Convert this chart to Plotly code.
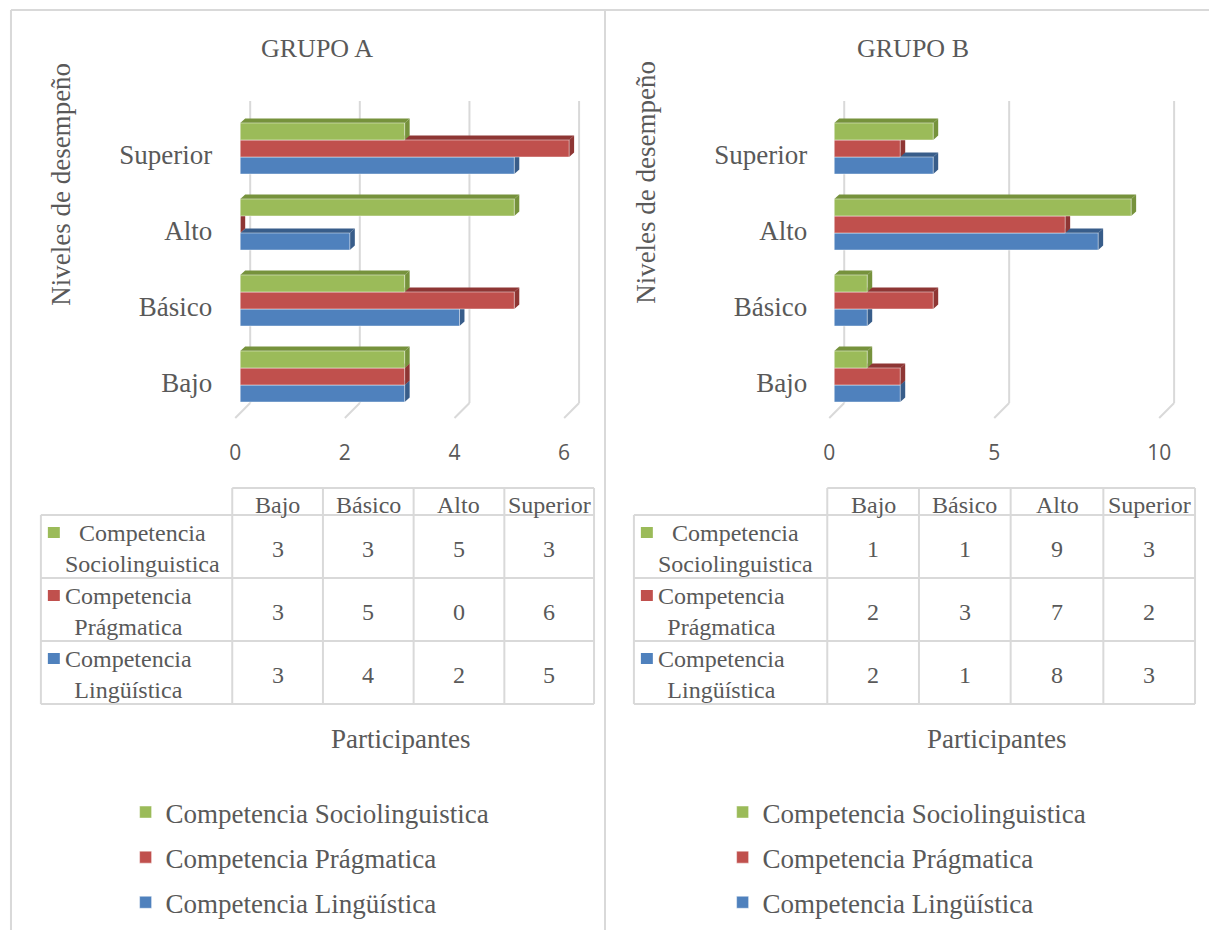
import plotly.graph_objects as go

W, H = 1209, 930

# ---------------- data ----------------
categories = ["Bajo", "Básico", "Alto", "Superior"]
series_names = ["Competencia Lingüística", "Competencia Prágmatica", "Competencia Sociolinguistica"]
table_row_labels = ["Competencia<br>Sociolinguistica", "Competencia<br>Prágmatica", "Competencia<br>Lingüística"]

grupo_a_linguistica = [3, 4, 2, 5]
grupo_a_pragmatica = [3, 5, 0, 6]
grupo_a_socio = [3, 3, 5, 3]

grupo_b_linguistica = [2, 1, 8, 3]
grupo_b_pragmatica = [2, 3, 7, 2]
grupo_b_socio = [1, 1, 9, 3]

ticks_a = [0, 2, 4, 6]
ticks_b = [0, 5, 10]

titles = ["GRUPO A", "GRUPO B"]
y_title = "Niveles de desempeño"
x_title = "Participantes"

# ---------------- style ----------------
colors = ["#4F81BD", "#C0504D", "#9BBB59"]
dark = ["#385D8A", "#8E3634", "#76923C"]
grid_col = "#D9D9D9"
txt_col = "#595959"
SERIF = "Liberation Serif, Times New Roman, serif"
SANS = "Open Sans, Liberation Sans, sans-serif"
BIG = 27

# vertical layout (pixels)
Y_ZERO_PX = 376.5   # centre of first category
Y_UNIT_PX = 76.0
Y_DOM_TOP, Y_DOM_BOT = 95.0, 422.0
BAR_W = 0.224
DEPTH_X_PX, DEPTH_Y_PX = 5.0, 4.5
GRID_TOP_PX, GRID_BOT_PX, FLOOR_PX = 101.0, 403.0, 15.0
GRID_SHIFT_PX = 10.0


def yv(p):
    return (Y_ZERO_PX - p) / Y_UNIT_PX


panels = [
    dict(name="a", xa="x", ya="y", legend="legend",
         data=[grupo_a_linguistica, grupo_a_pragmatica, grupo_a_socio], ticks=ticks_a,
         zero=237.0, unit=55.0, dom=(229.0, 622.0), title=titles[0],
         title_xy=(314, 48), ytitle_xy=(57, 184), xtitle_xy=(398, 739),
         table_cols=[37, 229, 320, 411, 502, 592], legend_x=122),
    dict(name="b", xa="x2", ya="y2", legend="legend2",
         data=[grupo_b_linguistica, grupo_b_pragmatica, grupo_b_socio], ticks=ticks_b,
         zero=833.0, unit=33.1, dom=(826.0, 1197.0), title=titles[1],
         title_xy=(912, 48), ytitle_xy=(644, 182), xtitle_xy=(996, 739),
         table_cols=[632, 826, 918, 1010, 1103, 1195], legend_x=721),
]
TABLE_ROWS = [488, 515, 578, 641, 704]
ROWHDR_CX = [102, 88, 88]

fig = go.Figure()
shapes = []
annotations = []
layout_axes = {}

for pi, p in enumerate(panels):
    unit = p["unit"]
    xr = [(p["dom"][0] - p["zero"]) / unit, (p["dom"][1] - p["zero"]) / unit]
    dxu = DEPTH_X_PX / unit
    dyu = DEPTH_Y_PX / Y_UNIT_PX
    xref, yref = p["xa"], p["ya"]

    # back-wall gridlines + floor diagonals
    for t in p["ticks"]:
        gx = t + GRID_SHIFT_PX / unit
        shapes.append(dict(type="line", xref=xref, yref=yref, layer="below",
                           x0=gx, x1=gx, y0=yv(GRID_BOT_PX), y1=yv(GRID_TOP_PX),
                           line=dict(color=grid_col, width=2)))
        shapes.append(dict(type="line", xref=xref, yref=yref, layer="below",
                           x0=gx, x1=gx - FLOOR_PX / unit, y0=yv(GRID_BOT_PX),
                           y1=yv(GRID_BOT_PX + FLOOR_PX),
                           line=dict(color=grid_col, width=2)))

    # bars (front faces) + depth faces
    for j, vals in enumerate(p["data"]):
        offset = -1.5 * BAR_W + j * BAR_W
        fig.add_trace(go.Bar(
            orientation="h", y=list(range(len(categories))), x=vals,
            width=BAR_W, offset=offset, name=series_names[j],
            marker=dict(color=colors[j], line=dict(color="rgba(255,255,255,0.45)", width=1)),
            xaxis=xref, yaxis=yref, legend=p["legend"],
            legendgroup=p["name"] + str(j), legendrank=10 - j,
            hoverinfo="x+name",
        ))
    for c in range(len(categories)):
        for j, vals in enumerate(p["data"]):
            v = vals[c]
            bot = c - 1.5 * BAR_W + j * BAR_W
            top = bot + BAR_W
            top_face = (f"M 0,{top} L {dxu},{top + dyu} L {v + dxu},{top + dyu} "
                        f"L {v},{top} Z")
            side_face = (f"M {v},{bot} L {v},{top} L {v + dxu},{top + dyu} "
                         f"L {v + dxu},{bot + dyu} Z")
            for path in (top_face, side_face):
                shapes.append(dict(type="path", path=path, xref=xref, yref=yref,
                                   layer="below", fillcolor=dark[j],
                                   line=dict(width=0)))

    xkey = "xaxis" if pi == 0 else "xaxis2"
    ykey = "yaxis" if pi == 0 else "yaxis2"
    layout_axes[xkey] = dict(
        domain=[p["dom"][0] / W, p["dom"][1] / W], range=xr, anchor=yref,
        showgrid=False, zeroline=False, showline=False, ticks="",
        tickvals=p["ticks"], ticktext=[str(t) for t in p["ticks"]],
        tickfont=dict(family=SANS, size=21, color=txt_col),
        ticklabelshift=-5, ticklabelstandoff=16, fixedrange=True)
    layout_axes[ykey] = dict(
        domain=[1 - Y_DOM_BOT / H, 1 - Y_DOM_TOP / H],
        range=[yv(Y_DOM_BOT), yv(Y_DOM_TOP)], anchor=xref,
        showgrid=False, zeroline=False, showline=False, ticks="",
        tickvals=list(range(len(categories))), ticktext=categories,
        tickfont=dict(family=SERIF, size=BIG, color=txt_col),
        ticklabelshift=6, ticklabelstandoff=19, fixedrange=True)

    # titles
    tx, ty = p["title_xy"]
    annotations.append(dict(text=p["title"], x=tx / W, y=1 - ty / H, xref="paper", yref="paper",
                            showarrow=False, xanchor="center", yanchor="middle",
                            font=dict(family=SERIF, size=26, color=txt_col)))
    tx, ty = p["ytitle_xy"]
    annotations.append(dict(text=y_title, x=tx / W, y=1 - ty / H, xref="paper", yref="paper",
                            showarrow=False, xanchor="center", yanchor="middle", textangle=-90,
                            font=dict(family=SERIF, size=BIG, color=txt_col)))
    tx, ty = p["xtitle_xy"]
    annotations.append(dict(text=x_title, x=tx / W, y=1 - ty / H, xref="paper", yref="paper",
                            showarrow=False, xanchor="center", yanchor="middle",
                            font=dict(family=SERIF, size=BIG, color=txt_col)))

    # data table
    cols = p["table_cols"]
    rows = TABLE_ROWS

    def pl(x0, y0, x1, y1):
        shapes.append(dict(type="line", xref="paper", yref="paper",
                           x0=x0 / W, x1=x1 / W, y0=1 - y0 / H, y1=1 - y1 / H,
                           line=dict(color=grid_col, width=2)))

    pl(cols[1], rows[0], cols[-1], rows[0])
    for r in rows[1:]:
        pl(cols[0], r, cols[-1], r)
    pl(cols[0], rows[1], cols[0], rows[-1])
    for cx in cols[1:]:
        pl(cx, rows[0], cx, rows[-1])

    for k, cat in enumerate(categories):
        cxm = (cols[k + 1] + cols[k + 2]) / 2
        annotations.append(dict(text=cat, x=cxm / W, y=1 - ((rows[0] + rows[1]) / 2 + 3) / H,
                                xref="paper", yref="paper", showarrow=False,
                                xanchor="center", yanchor="middle",
                                font=dict(family=SERIF, size=24, color=txt_col)))
    table_series = [p["data"][2], p["data"][1], p["data"][0]]
    table_colors = [colors[2], colors[1], colors[0]]
    for r, vals in enumerate(table_series):
        rt, rb = rows[r + 1], rows[r + 2]
        rm = (rt + rb) / 2
        shapes.append(dict(type="rect", xref="paper", yref="paper",
                           x0=(cols[0] + 7) / W, x1=(cols[0] + 19) / W,
                           y0=1 - (rt + 12) / H, y1=1 - (rt + 23) / H,
                           fillcolor=table_colors[r], line=dict(width=0)))
        annotations.append(dict(text=table_row_labels[r], x=(cols[0] + ROWHDR_CX[r]) / W,
                                y=1 - (rm + 2) / H, xref="paper", yref="paper", showarrow=False,
                                xanchor="center", yanchor="middle", align="center",
                                font=dict(family=SERIF, size=24, color=txt_col)))
        for k, v in enumerate(vals):
            cxm = (cols[k + 1] + cols[k + 2]) / 2
            annotations.append(dict(text=str(v), x=cxm / W, y=1 - (rm + 2) / H,
                                    xref="paper", yref="paper", showarrow=False,
                                    xanchor="center", yanchor="middle",
                                    font=dict(family=SERIF, size=24, color=txt_col)))

# panel borders
for (x0, y0, x1, y1) in [(7, 10, W, 10), (7, 10, 7, H), (603, 10, 603, H)]:
    shapes.append(dict(type="line", xref="paper", yref="paper",
                       x0=x0 / W, x1=x1 / W, y0=1 - y0 / H, y1=1 - y1 / H,
                       line=dict(color=grid_col, width=2)))

legend_common = dict(yanchor="top", xanchor="left", bgcolor="rgba(0,0,0,0)",
                     font=dict(family=SERIF, size=BIG, color=txt_col),
                     tracegroupgap=7, itemclick=False, itemdoubleclick=False)

fig.update_layout(
    width=W, height=H, margin=dict(l=0, r=0, t=0, b=0),
    paper_bgcolor="white", plot_bgcolor="rgba(0,0,0,0)",
    showlegend=True, barmode="overlay",
    legend=dict(x=panels[0]["legend_x"] / W, y=1 - 788 / H, **legend_common),
    legend2=dict(x=panels[1]["legend_x"] / W, y=1 - 788 / H, **legend_common),
    shapes=shapes, annotations=annotations,
    **layout_axes,
)

fig.write_html("out.html")
